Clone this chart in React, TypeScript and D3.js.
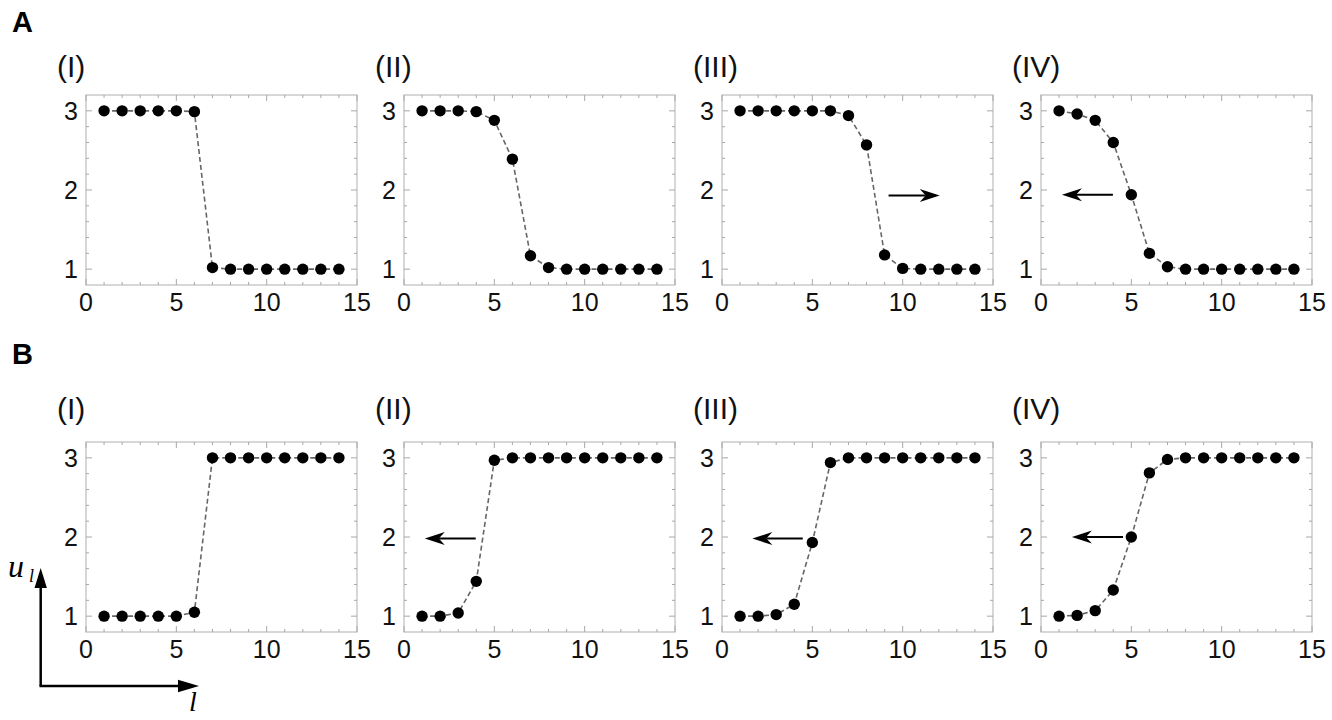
import React from "react";
import * as d3 from "d3";

// ---------- data ----------
const sites = [1, 2, 3, 4, 5, 6, 7, 8, 9, 10, 11, 12, 13, 14];
const panelLabels = ["(I)", "(II)", "(III)", "(IV)"];
const rowLabels = ["A", "B"];
const xTickLabels = [0, 5, 10, 15];
const yTickLabels = [1, 2, 3];

const rowA_I = [3, 3, 3, 3, 3, 2.99, 1.02, 1, 1, 1, 1, 1, 1, 1];
const rowA_II = [3, 3, 3, 2.99, 2.88, 2.39, 1.17, 1.02, 1, 1, 1, 1, 1, 1];
const rowA_III = [3, 3, 3, 3, 3, 3, 2.94, 2.57, 1.18, 1.01, 1, 1, 1, 1];
const rowA_IV = [3, 2.96, 2.88, 2.6, 1.94, 1.2, 1.03, 1, 1, 1, 1, 1, 1, 1];

const rowB_I = [1, 1, 1, 1, 1, 1.05, 3, 3, 3, 3, 3, 3, 3, 3];
const rowB_II = [1, 1, 1.04, 1.44, 2.97, 3, 3, 3, 3, 3, 3, 3, 3, 3];
const rowB_III = [1, 1, 1.02, 1.15, 1.93, 2.94, 3, 3, 3, 3, 3, 3, 3, 3];
const rowB_IV = [1, 1.01, 1.07, 1.33, 2.0, 2.81, 2.98, 3, 3, 3, 3, 3, 3, 3];

// shift arrows in data coordinates: [from l, to l, at u]
const arrowsA = [null, null, [9.22, 12.05, 1.93], [3.98, 1.16, 1.94]];
const arrowsB = [null, [3.97, 1.15, 1.98], [4.47, 1.68, 1.98], [4.54, 1.71, 2.0]];

const rows = [
  { label: rowLabels[0], series: [rowA_I, rowA_II, rowA_III, rowA_IV], arrows: arrowsA },
  { label: rowLabels[1], series: [rowB_I, rowB_II, rowB_III, rowB_IV], arrows: arrowsB },
];

// ---------- layout ----------
const W = 1332;
const H = 720;
const panelLefts = [86, 404, 722, 1041];
const panelW = 271;
const rowTops = [95, 442];
const panelH = 190;
const rowLabelY = [32, 364];
const panelLabelY = [77, 419];
const FONT = "'Liberation Sans', Arial, sans-serif";
const SERIF = "'Liberation Serif', 'Times New Roman', serif";

function ShiftArrow({ x1, x2, y }: { x1: number; x2: number; y: number }) {
  const dir = x2 > x1 ? 1 : -1;
  const headLen = 20;
  const notch = 14;
  const half = 6.5;
  const head = `M${x2},${y} L${x2 - dir * headLen},${y - half} L${x2 - dir * notch},${y} L${x2 - dir * headLen},${y + half} Z`;
  return (
    <g>
      <line x1={x1} y1={y} x2={x2 - dir * notch} y2={y} stroke="#000" strokeWidth={2} />
      <path d={head} fill="#000" />
    </g>
  );
}

function Panel({ left, top, values, arrow, label, labelY }: any) {
  const x = d3.scaleLinear().domain([0, 15]).range([left, left + panelW]);
  const y = d3.scaleLinear().domain([0.8, 3.2]).range([top + panelH, top]);
  const line = d3
    .line<number>()
    .x((_, i) => x(sites[i]))
    .y((d) => y(d));
  const xMinor = d3.range(1, 15).filter((v) => v % 5 !== 0);
  const yMinor = d3.range(0.8, 3.21, 0.2).filter((v) => Math.abs(v - Math.round(v)) > 0.01 && v > 0.81 && v < 3.19);
  const tickColor = "#a8a8a8";
  const bottom = top + panelH;
  const right = left + panelW;
  return (
    <g>
      <text x={left - 29} y={labelY} fontFamily={FONT} fontSize={30} fill="#111">
        {label}
      </text>
      <rect x={left} y={top} width={panelW} height={panelH} fill="none" stroke="#bdbdbd" strokeWidth={1.2} />
      {xTickLabels.map((t) => (
        <g key={"xm" + t}>
          <line x1={x(t)} x2={x(t)} y1={bottom} y2={bottom - 6} stroke={tickColor} />
          <line x1={x(t)} x2={x(t)} y1={top} y2={top + 6} stroke={tickColor} />
        </g>
      ))}
      {xMinor.map((t) => (
        <g key={"xn" + t}>
          <line x1={x(t)} x2={x(t)} y1={bottom} y2={bottom - 3} stroke={tickColor} />
          <line x1={x(t)} x2={x(t)} y1={top} y2={top + 3} stroke={tickColor} />
        </g>
      ))}
      {yTickLabels.map((t) => (
        <g key={"ym" + t}>
          <line x1={left} x2={left + 6} y1={y(t)} y2={y(t)} stroke={tickColor} />
          <line x1={right} x2={right - 6} y1={y(t)} y2={y(t)} stroke={tickColor} />
        </g>
      ))}
      {yMinor.map((t, i) => (
        <g key={"yn" + i}>
          <line x1={left} x2={left + 3} y1={y(t)} y2={y(t)} stroke={tickColor} />
          <line x1={right} x2={right - 3} y1={y(t)} y2={y(t)} stroke={tickColor} />
        </g>
      ))}
      {xTickLabels.map((t) => (
        <text key={"xl" + t} x={x(t)} y={bottom + 26} textAnchor="middle" fontFamily={FONT} fontSize={25} fill="#111">
          {t}
        </text>
      ))}
      {yTickLabels.map((t) => (
        <text key={"yl" + t} x={left - 8} y={y(t) + 9} textAnchor="end" fontFamily={FONT} fontSize={25} fill="#111">
          {t}
        </text>
      ))}
      <path d={line(values) || ""} fill="none" stroke="#666" strokeWidth={1.6} strokeDasharray="5,3" />
      {values.map((v: number, i: number) => (
        <circle key={i} cx={x(sites[i])} cy={y(v)} r={5.7} fill="#000" />
      ))}
      {arrow && <ShiftArrow x1={x(arrow[0])} x2={x(arrow[1])} y={y(arrow[2])} />}
    </g>
  );
}

export default function App() {
  return (
    <svg
      width={W}
      height={H}
      viewBox={`0 0 ${W} ${H}`}
      style={{ position: "absolute", left: 0, top: 0, background: "#fff" }}
    >
      <rect x={0} y={0} width={W} height={H} fill="#fff" />
      {rows.map((row, r) => (
        <g key={r}>
          <text x={12} y={rowLabelY[r]} fontFamily={FONT} fontWeight="bold" fontSize={29} fill="#000">
            {row.label}
          </text>
          {row.series.map((vals, p) => (
            <Panel
              key={p}
              left={panelLefts[p]}
              top={rowTops[r]}
              values={vals}
              arrow={row.arrows[p]}
              label={panelLabels[p]}
              labelY={panelLabelY[r]}
            />
          ))}
        </g>
      ))}
      {/* axis key */}
      <g>
        <line x1={40.7} y1={686} x2={40.7} y2={584} stroke="#000" strokeWidth={2.5} />
        <path d="M40.7,568 L34.5,588 L46.9,588 Z" fill="#000" />
        <line x1={39.5} y1={686} x2={182} y2={686} stroke="#000" strokeWidth={2.5} />
        <path d="M199,686 L178,679.8 L178,692.2 Z" fill="#000" />
        <text x={8} y={577} fontFamily={SERIF} fontStyle="italic" fontSize={32} fill="#000">
          u
        </text>
        <text x={29} y={582} fontFamily={SERIF} fontStyle="italic" fontSize={18} fill="#000">
          l
        </text>
        <text x={189} y={711} fontFamily={SERIF} fontStyle="italic" fontSize={28} fill="#000">
          l
        </text>
      </g>
    </svg>
  );
}
